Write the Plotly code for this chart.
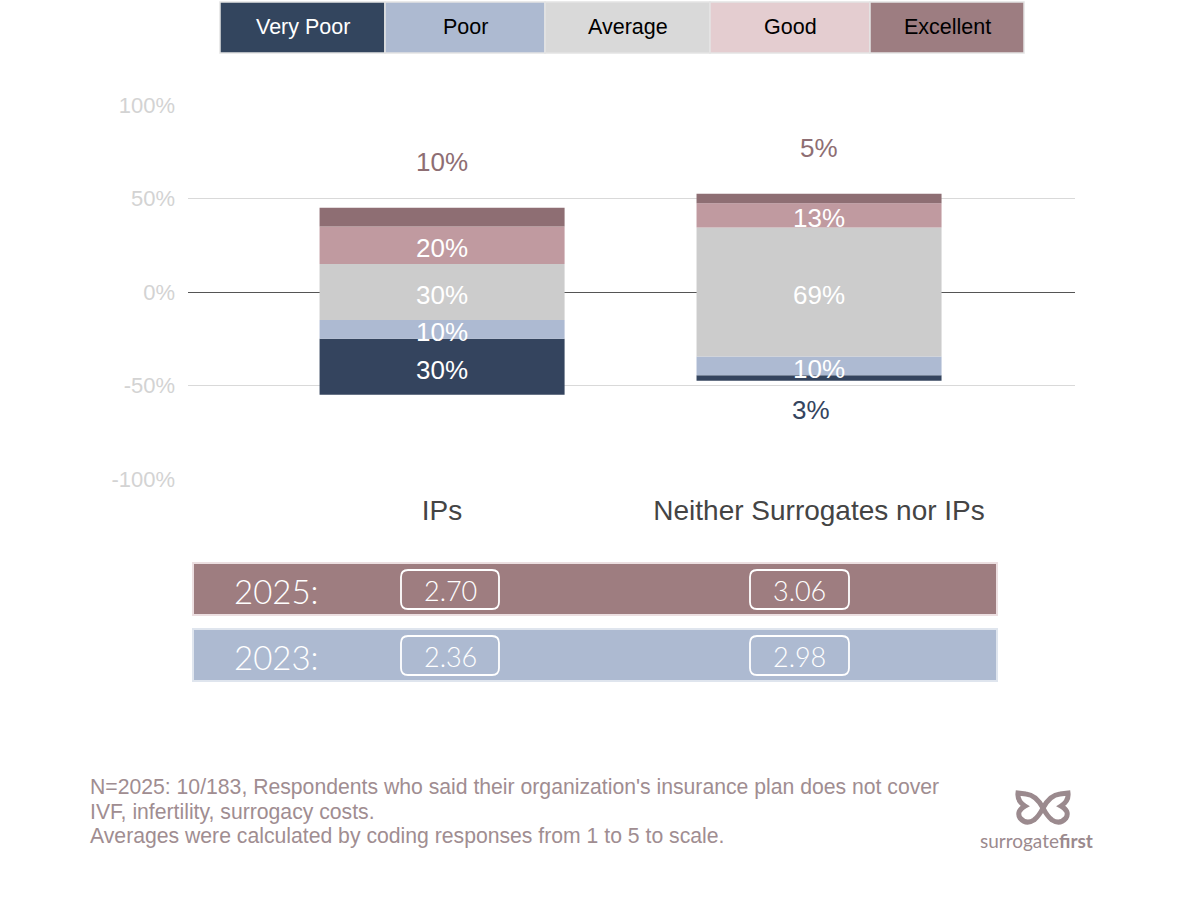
import plotly.graph_objects as go
import numpy as np

# ---------------- data ----------------
categories = ["IPs", "Neither Surrogates nor IPs"]
ratings = ["Very Poor", "Poor", "Average", "Good", "Excellent"]
very_poor = [30, 3]
poor = [10, 10]
average = [30, 69]
good = [20, 13]
excellent = [10, 5]
years = ["2025:", "2023:"]
avg_2025 = [2.70, 3.06]
avg_2023 = [2.36, 2.98]
y_ticks = [-100, -50, 0, 50, 100]
footnote_lines = [
    "N=2025: 10/183, Respondents who said their organization's insurance plan does not cover",
    "IVF, infertility, surrogacy costs.",
    "Averages were calculated by coding responses from 1 to 5 to scale.",
]

# ---------------- styles ----------------
bar_colors = {"Very Poor": "#34445e", "Poor": "#adbad2", "Average": "#cccccc",
              "Good": "#c09aa0", "Excellent": "#8e6e73"}
legend_colors = ["#33455e", "#adbad1", "#d9d9d9", "#e4cdd0", "#9d7d81"]
legend_text_colors = ["white", "black", "black", "black", "black"]
FONT = "Liberation Sans, Arial, sans-serif"
FONT2 = "Lato, Noto Sans, sans-serif"

W, H = 1200, 900
L, T = 188, 105
PW, PH = 887, 374
R, B = W - L - PW, H - T - PH


def px(x):
    return (x - L) / PW


def py(y):
    return (H - B - y) / PH


vp = np.array(very_poor, float)
po = np.array(poor, float)
av = np.array(average, float)
gd = np.array(good, float)
ex = np.array(excellent, float)

# segment bases (diverging around the middle of "Average")
av_base = -av / 2
po_base = av_base - po
vp_base = po_base - vp
gd_base = av / 2
ex_base = gd_base + gd

segments = [
    ("Very Poor", vp, vp_base),
    ("Poor", po, po_base),
    ("Average", av, av_base),
    ("Good", gd, gd_base),
    ("Excellent", ex, ex_base),
]

fig = go.Figure()
bw = 0.65
for name, vals, base in segments:
    fig.add_trace(go.Bar(
        x=categories, y=vals, base=base, name=name, width=bw,
        marker=dict(color=bar_colors[name], line=dict(width=0)),
        showlegend=False, hoverinfo="skip"))

annotations = []
for name, vals, base in segments:
    for i, c in enumerate(categories):
        v = vals[i]
        if name == "Excellent":
            annotations.append(dict(x=c, y=base[i] + v, text=f"{v:.0f}%", showarrow=False,
                                    yanchor="middle", yshift=46,
                                    font=dict(family=FONT, size=26, color="#8e6e73")))
        elif name == "Very Poor" and v < 5:
            annotations.append(dict(x=c, y=base[i], text=f"{v:.0f}%", showarrow=False,
                                    yanchor="middle", yshift=-29, xshift=-8,
                                    font=dict(family=FONT, size=26, color="#34445e")))
        else:
            annotations.append(dict(x=c, y=base[i] + v / 2, text=f"{v:.0f}%", showarrow=False,
                                    yanchor="middle", yshift=-3,
                                    font=dict(family=FONT, size=26, color="white")))

shapes = []


def pa(**kw):
    d = dict(xref="paper", yref="paper", showarrow=False, xanchor="center", yanchor="middle")
    d.update(kw)
    return d


# legend boxes at top
edges = [220, 385, 545, 710, 870, 1024]
for i, lab in enumerate(ratings):
    shapes.append(dict(type="rect", xref="paper", yref="paper",
                       x0=px(edges[i]), x1=px(edges[i + 1]), y0=py(53), y1=py(2),
                       fillcolor=legend_colors[i], line=dict(color="#e3e3e3", width=1.5), layer="above"))
    annotations.append(pa(x=px((edges[i] + edges[i + 1]) / 2), y=py(27), text=lab,
                          font=dict(family=FONT, size=21.5, color=legend_text_colors[i])))

# bottom table
row_specs = [(563, 615, "#9e7d80", "#ecdfe1", avg_2025), (629, 681, "#adbad1", "#dfe5ee", avg_2023)]
box_x = [(401, 499), (750, 849)]
for (y0, y1, fill, border, vals), yr in zip(row_specs, years):
    shapes.append(dict(type="rect", xref="paper", yref="paper",
                       x0=px(193), x1=px(997), y0=py(y1), y1=py(y0),
                       fillcolor=fill, line=dict(color=border, width=2), layer="above"))
    annotations.append(pa(x=px(276), y=py((y0 + y1) / 2 + 2), text=yr,
                          font=dict(family=FONT2, size=33, color="white", weight=300)))
    for (bx0, bx1), v in zip(box_x, vals):
        by0, by1 = y0 + 7, y1 - 6
        r = 7
        path = (f"M {px(bx0 + r)},{py(by0)} L {px(bx1 - r)},{py(by0)} "
                f"Q {px(bx1)},{py(by0)} {px(bx1)},{py(by0 + r)} "
                f"L {px(bx1)},{py(by1 - r)} Q {px(bx1)},{py(by1)} {px(bx1 - r)},{py(by1)} "
                f"L {px(bx0 + r)},{py(by1)} Q {px(bx0)},{py(by1)} {px(bx0)},{py(by1 - r)} "
                f"L {px(bx0)},{py(by0 + r)} Q {px(bx0)},{py(by0)} {px(bx0 + r)},{py(by0)} Z")
        shapes.append(dict(type="path", xref="paper", yref="paper", path=path,
                           line=dict(color="white", width=1.8), layer="above"))
        annotations.append(pa(x=px((bx0 + bx1) / 2), y=py((by0 + by1) / 2 + 1), text=f"{v:.2f}",
                              font=dict(family=FONT2, size=27, color="white", weight=300)))

# footnote
for line, yy in zip(footnote_lines, [787, 812, 836]):
    annotations.append(pa(x=px(88), y=py(yy), xanchor="left", text=line,
                          font=dict(family=FONT, size=21.2, color="#a08d91")))

# logo
logo_col = "#9b8a8e"
pts = [
    "M 1043,808",
    "Q 1050,795 1060,794", "L 1068,793", "Q 1069,801 1061,806",
    "Q 1070,811 1066,818", "Q 1060,825 1052,820", "Q 1047,816 1043,808",
    "Q 1036,795 1026,794", "L 1018,793", "Q 1017,801 1025,806",
    "Q 1016,811 1020,818", "Q 1026,825 1034,820", "Q 1039,816 1043,808", "Z",
]


def conv(seg):
    cmd, rest = seg[0], seg[1:].strip()
    out = []
    for p in rest.split():
        x, y = p.split(",")
        out.append(f"{px(float(x))},{py(float(y))}")
    return cmd + " " + " ".join(out)


logo_path = " ".join(conv(s) if s != "Z" else "Z" for s in pts)
shapes.append(dict(type="path", xref="paper", yref="paper", path=logo_path,
                   line=dict(color=logo_col, width=5), layer="above"))
annotations.append(pa(x=px(1036), y=py(840), text="surrogate<b>first</b>",
                      font=dict(family=FONT2, size=19, color=logo_col)))

fig.update_layout(
    width=W, height=H, barmode="overlay",
    margin=dict(l=L, r=R, t=T, b=B, autoexpand=False),
    plot_bgcolor="white", paper_bgcolor="white",
    xaxis=dict(type="category", range=[-0.674, 1.679], showgrid=False, zeroline=False,
               showline=False, ticks="", ticklabelstandoff=12,
               tickfont=dict(family=FONT, size=28, color="#444444")),
    yaxis=dict(range=[-100, 100], tickvals=y_ticks, ticktext=[f"{t}%" for t in y_ticks],
               showgrid=True, gridcolor="#d9d9d9", gridwidth=1.2,
               zeroline=True, zerolinecolor="#555555", zerolinewidth=1.2,
               ticks="", ticklabelstandoff=12,
               tickfont=dict(family=FONT, size=22, color="#d3d3d3")),
    shapes=shapes, annotations=annotations,
)

fig.write_html("out.html", config={"displayModeBar": False},
               post_script="document.body.style.margin='0';")
